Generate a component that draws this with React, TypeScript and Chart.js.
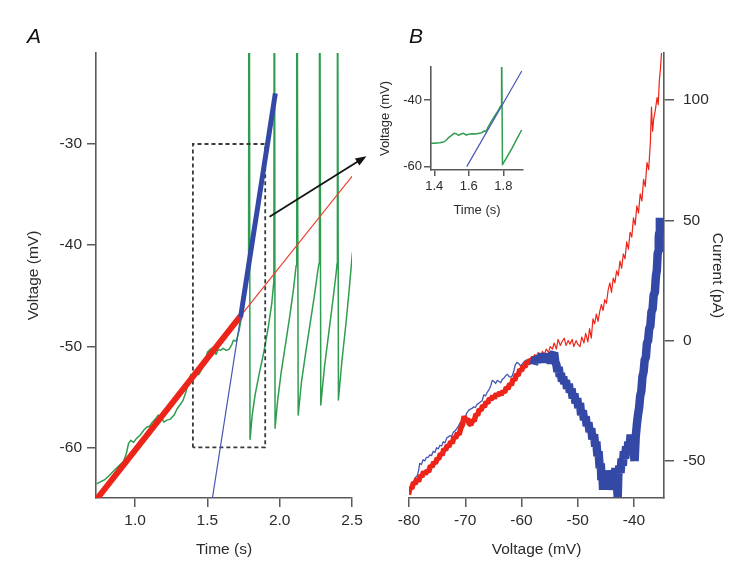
import React, { useEffect, useRef } from "react";
import { Chart, registerables } from "chart.js";
Chart.register(...registerables);

type P = [number, number];

// ---------- Panel A: voltage vs time ----------
const timeTicksA = [1.0, 1.5, 2.0, 2.5];
const voltTicksA = [-60, -50, -40, -30];

const greenTraceA: P[] = [
  [0.735, -63.6], [0.76, -63.4], [0.79, -63.2], [0.82, -62.8], [0.86, -62.2], [0.89, -61.8],
  [0.92, -61.4], [0.94, -60.6], [0.955, -59.6], [0.97, -59.3], [0.99, -59.5], [1.01, -59.1],
  [1.035, -58.8], [1.06, -58.3], [1.08, -58.0], [1.10, -57.9], [1.12, -57.5], [1.14, -57.2],
  [1.16, -56.8], [1.18, -57.0], [1.20, -57.5], [1.22, -57.3], [1.245, -57.2], [1.27, -56.8],
  [1.29, -56.2], [1.31, -55.8], [1.33, -55.4], [1.35, -54.6], [1.37, -53.6], [1.385, -52.8],
  [1.40, -52.9], [1.42, -52.6], [1.44, -52.8], [1.46, -52.3], [1.48, -51.8], [1.50, -50.6],
  [1.52, -50.3], [1.54, -50.1], [1.56, -50.8], [1.575, -50.3], [1.59, -50.4], [1.61, -50.2],
  [1.63, -50.4], [1.65, -50.3], [1.67, -49.8], [1.68, -49.4], [1.70, -49.5], [1.72, -48.4],
  [1.74, -46.8], [1.76, -44.8], [1.775, -43.0], [1.785, -41.5],
  [1.788, 10], [1.795, -59.2],
  [1.81, -56.8], [1.83, -54.8], [1.86, -52.6], [1.89, -50.6], [1.92, -48.2], [1.945, -45.8], [1.96, -43.5],
  [1.963, 10], [1.968, -58.1],
  [1.985, -55.5], [2.01, -52.6], [2.04, -49.8], [2.07, -47.0], [2.095, -44.4], [2.114, -42.0],
  [2.118, 10], [2.128, -56.8],
  [2.15, -53.6], [2.18, -50.6], [2.21, -47.8], [2.24, -45.0], [2.265, -42.4], [2.272, -41.8],
  [2.275, 10], [2.284, -55.8],
  [2.31, -52.0], [2.34, -48.6], [2.37, -45.2], [2.39, -42.8], [2.397, -41.8],
  [2.399, 10], [2.406, -55.3],
  [2.43, -51.5], [2.46, -47.5], [2.48, -44.5], [2.503, -40.7],
];
const redFitThickA: P[] = [[0.73, -65.2], [1.73, -47.0]];
const redFitThinA: P[] = [[1.73, -47.0], [2.5, -33.2]];
const blueFitThinA: P[] = [[1.535, -65], [1.73, -47.1]];
const blueFitThickA: P[] = [[1.73, -47.1], [1.97, -25.0]];
const zoomBoxA: P[] = [[1.4, -60], [1.4, -30], [1.9, -30], [1.9, -60], [1.4, -60]];
const arrowA: P[] = [[1.93, -37.2], [2.6, -31.2]];

// ---------- Panel B: current vs voltage ----------
const voltTicksB = [-80, -70, -60, -50, -40];
const currTicksB = [-50, 0, 50, 100];

const redThickB: P[] = [
  [-80.1, -64], [-79.8, -61], [-79.5, -61.5], [-79.2, -59], [-78.9, -59.5], [-78.6, -57.5],
  [-78.3, -58.5], [-78.0, -56], [-77.7, -56.5], [-77.4, -54.5], [-77.1, -55.5], [-76.8, -54],
  [-76.5, -54.5], [-76.2, -52], [-75.9, -52.5], [-75.6, -50.5], [-75.3, -51], [-75.0, -49],
  [-74.7, -49], [-74.4, -47], [-74.1, -47.5], [-73.8, -45], [-73.5, -45.5], [-73.2, -43.5],
  [-72.9, -44], [-72.6, -42], [-72.3, -42.5], [-72.0, -40], [-71.7, -40.5], [-71.4, -38.5],
  [-71.1, -39], [-70.8, -36.5], [-70.5, -35], [-70.2, -31.5], [-69.9, -33], [-69.6, -32.5],
  [-69.3, -34.5], [-69.0, -35], [-68.7, -33], [-68.4, -33.5], [-68.1, -30.5], [-67.8, -31],
  [-67.5, -28.5], [-67.2, -29], [-66.9, -27], [-66.6, -27.5], [-66.3, -25.5], [-66.0, -26],
  [-65.7, -24], [-65.4, -24.5], [-65.1, -23], [-64.8, -24], [-64.5, -22], [-64.2, -23],
  [-63.9, -21.5], [-63.6, -22.5], [-63.3, -21], [-63.0, -21.5], [-62.7, -19.5], [-62.4, -20],
  [-62.1, -18], [-61.8, -18.5], [-61.5, -16], [-61.2, -16.5], [-60.9, -14], [-60.6, -14.5],
  [-60.3, -12], [-60.0, -12.5], [-59.7, -10.5], [-59.4, -11], [-59.1, -9], [-58.8, -9.5],
  [-58.5, -8], [-58.2, -8.5], [-57.9, -7], [-57.6, -7.5], [-57.3, -6],
];
const blueThinB: P[] = [
  [-80.1, -63.5], [-79.7, -61], [-79.3, -59.5], [-78.9, -57], [-78.5, -56], [-78.3, -54],
  [-78.1, -51], [-77.8, -51.5], [-77.5, -49.5], [-77.2, -50], [-76.9, -48.5], [-76.6, -48.5],
  [-76.3, -47.5], [-76.0, -47.8], [-75.7, -46], [-75.4, -46.5], [-75.1, -44.5], [-74.8, -45],
  [-74.5, -43.5], [-74.2, -43.8], [-73.9, -42], [-73.6, -42.5], [-73.3, -40.5], [-73.0, -40],
  [-72.7, -39.5], [-72.4, -39.8], [-72.1, -38], [-71.8, -37.5], [-71.5, -36.5], [-71.2, -35.5],
  [-70.9, -34], [-70.6, -33.5], [-70.3, -32], [-70.0, -31.5], [-69.7, -30], [-69.4, -29],
  [-69.1, -28.5], [-68.8, -28.2], [-68.5, -27.5], [-68.2, -27.8], [-67.9, -26.5], [-67.6, -26],
  [-67.3, -25.5], [-67.0, -25], [-66.7, -22.5], [-66.4, -23], [-66.1, -21.5], [-65.8, -20.5],
  [-65.5, -19], [-65.2, -16.5], [-64.9, -17], [-64.6, -17.8], [-64.3, -16.5], [-64.0, -17],
  [-63.7, -17.5], [-63.4, -16], [-63.1, -15.5], [-62.8, -14.5], [-62.5, -14], [-62.2, -15],
  [-61.9, -15.2], [-61.6, -14.5], [-61.3, -12], [-61.1, -10], [-60.8, -9], [-60.5, -9.5],
  [-60.2, -10.5], [-59.9, -9.8], [-59.6, -9], [-59.3, -8.2], [-59.0, -8], [-58.7, -8.5],
  [-58.4, -7.8], [-58.1, -7.5], [-57.8, -7.2], [-57.5, -7], [-57.2, -6.5],
];
const redThinB: P[] = [
  [-57.3, -6], [-57.0, -5], [-56.6, -6.5], [-56.3, -4.5], [-55.9, -5.5], [-55.6, -3.5],
  [-55.2, -5], [-54.9, -2.5], [-54.5, -3.5], [-54.2, -1], [-53.8, -3.5], [-53.5, 0.5],
  [-53.1, -2], [-52.8, -0.5], [-52.4, 1], [-52.1, -2], [-51.7, 0], [-51.4, -1.5],
  [-51.0, 0.5], [-50.7, -2.5], [-50.3, 0], [-50.0, -1.5], [-49.6, -2.5], [-49.3, 1.5],
  [-48.9, -1], [-48.6, 3], [-48.2, -0.5], [-47.9, 5], [-47.6, 1], [-47.3, 9],
  [-47.0, 7], [-46.7, 11], [-46.4, 8], [-46.1, 12], [-45.8, 15], [-45.5, 12.5],
  [-45.2, 17], [-44.9, 15.5], [-44.6, 21], [-44.3, 24], [-44.0, 20], [-43.7, 26],
  [-43.4, 24], [-43.1, 29], [-42.8, 27], [-42.5, 33], [-42.2, 30], [-41.9, 36],
  [-41.6, 34], [-41.3, 41], [-41.0, 38], [-40.7, 45], [-40.4, 43], [-40.1, 51],
  [-39.8, 48], [-39.5, 56], [-39.2, 53], [-38.9, 61], [-38.6, 58], [-38.3, 67],
  [-38.0, 64], [-37.7, 74], [-37.4, 71], [-37.1, 82], [-36.9, 97], [-36.7, 87],
  [-36.5, 92], [-36.2, 96], [-35.9, 101], [-35.7, 98], [-35.5, 108], [-35.3, 113], [-35.1, 120],
];
const blueThickB: P[] = [
  [-57.8, -10], [-57.5, -7], [-57.2, -9], [-56.9, -6.5], [-56.6, -8], [-56.3, -5.5],
  [-56.0, -9], [-55.7, -6], [-55.4, -8.5], [-55.1, -5.5], [-54.8, -9.5], [-54.5, -6],
  [-54.2, -5], [-54.0, -9], [-53.8, -10], [-53.6, -13], [-53.4, -11], [-53.2, -15],
  [-53.0, -13.5], [-52.8, -17], [-52.6, -15], [-52.4, -18], [-52.1, -16.5], [-51.9, -20],
  [-51.6, -18], [-51.4, -21.5], [-51.1, -20], [-50.9, -24], [-50.6, -22], [-50.4, -26],
  [-50.1, -24], [-49.9, -28], [-49.6, -26], [-49.4, -31], [-49.1, -29], [-48.9, -33],
  [-48.6, -31.5], [-48.4, -35.5], [-48.1, -34], [-47.9, -38], [-47.6, -36.5], [-47.4, -41],
  [-47.1, -39], [-46.9, -44], [-46.7, -42], [-46.5, -48], [-46.3, -46], [-46.1, -53],
  [-45.9, -51], [-45.8, -58], [-45.6, -56], [-45.5, -62], [-45.3, -55], [-45.1, -59],
  [-44.9, -54], [-44.7, -58], [-44.5, -55], [-44.3, -62], [-44.1, -56], [-43.9, -59],
  [-43.7, -54], [-43.5, -57], [-43.3, -53], [-43.1, -57], [-42.9, -65], [-42.8, -56],
  [-42.6, -52], [-42.4, -55], [-42.2, -49], [-42.0, -52], [-41.8, -46], [-41.6, -49],
  [-41.4, -44], [-41.2, -47], [-41.0, -42], [-40.8, -45], [-40.6, -39], [-40.4, -43],
  [-40.2, -40], [-40.0, -48], [-39.9, -50], [-39.7, -40], [-39.5, -35], [-39.3, -31],
  [-39.1, -28], [-38.9, -23], [-38.7, -21], [-38.5, -15], [-38.3, -13], [-38.1, -8],
  [-37.9, -7], [-37.7, -1], [-37.5, 0], [-37.3, 5], [-37.1, 6], [-36.9, 12],
  [-36.7, 13], [-36.5, 19], [-36.3, 20], [-36.1, 27], [-35.95, 29], [-35.8, 36],
  [-35.7, 37], [-35.6, 43], [-35.5, 45], [-35.4, 51],
];

// ---------- Inset ----------
const timeTicksInset = [1.4, 1.6, 1.8];
const voltTicksInset = [-60, -40];
const greenInset: P[] = [
  [1.381, -53.0], [1.40, -53.0], [1.43, -52.8], [1.455, -52.6], [1.47, -52.0], [1.485, -51.2],
  [1.50, -50.6], [1.515, -50.0], [1.53, -50.2], [1.54, -50.6], [1.555, -50.2], [1.57, -50.0],
  [1.585, -50.5], [1.60, -50.3], [1.62, -50.1], [1.64, -50.2], [1.66, -50.0], [1.675, -49.8],
  [1.69, -49.3], [1.70, -49.5], [1.71, -48.3], [1.73, -46.5], [1.75, -44.8], [1.77, -43.2],
  [1.787, -41.6], [1.79, -20], [1.795, -59.4], [1.82, -57.2], [1.85, -54.5], [1.88, -51.5], [1.906, -49.0],
];
const blueInset: P[] = [[1.588, -60], [1.907, -31.3]];

// ---------- styling ----------
const FONT = "'Liberation Sans', Arial, Helvetica, sans-serif";
const AXIS = "#5a5a5a";
const TEXT = "#2b2b2b";
const GREEN = "#2f9d50";
const RED = "#ec2419";
const RED_THIN = "#e8412e";
const BLUE = "#3449a6";
const BLUE_THIN = "#4656b2";

const xy = (ps: P[]) => ps.map(([x, y]) => ({ x, y }));

function line(data: P[], color: string, width: number, extra: any = {}) {
  return {
    data: xy(data),
    showLine: true,
    borderColor: color,
    backgroundColor: color,
    borderWidth: width,
    pointRadius: 0,
    pointHoverRadius: 0,
    tension: 0,
    fill: false,
    borderJoinStyle: "round",
    ...extra,
  };
}

function scale(opts: {
  min: number; max: number; ticks: number[]; pos: string; size: number; fontSize: number;
  tickLen: number; tickPad: number; title: string; titlePad: any; fixed: number; fmt?: (v: number) => string;
}) {
  const horizontal = opts.pos === "bottom";
  return {
    type: "linear",
    position: opts.pos,
    min: opts.min,
    max: opts.max,
    afterBuildTicks: (s: any) => { s.ticks = opts.ticks.map((v) => ({ value: v })); },
    afterFit: (s: any) => { if (horizontal) s.height = opts.fixed; else s.width = opts.fixed; },
    grid: { drawOnChartArea: false, drawTicks: true, tickLength: opts.tickLen, color: AXIS, tickColor: AXIS, lineWidth: 1.5, tickWidth: 1.5 },
    border: { display: true, color: AXIS, width: 1.6 },
    ticks: {
      autoSkip: false, maxRotation: 0, minRotation: 0, padding: opts.tickPad, color: TEXT,
      font: { family: FONT, size: opts.fontSize },
      callback: (v: any) => (opts.fmt ? opts.fmt(Number(v)) : String(v)),
    },
    title: { display: true, text: opts.title, color: TEXT, font: { family: FONT, size: opts.size }, padding: opts.titlePad },
  };
}

const baseOptions = (padding: any, scales: any) => ({
  responsive: false,
  animation: false,
  devicePixelRatio: 1,
  layout: { padding },
  plugins: { legend: { display: false }, tooltip: { enabled: false } },
  events: [],
  scales,
});

function letterPlugin(letter: string, x: number, y: number) {
  return {
    id: "letter" + letter,
    afterDraw(chart: any) {
      const ctx = chart.ctx;
      ctx.save();
      ctx.fillStyle = "#111";
      ctx.font = `italic 21px ${FONT}`;
      ctx.textBaseline = "alphabetic";
      ctx.fillText(letter, x, y);
      ctx.restore();
    },
  };
}

const arrowPlugin = {
  id: "arrowA",
  afterDatasetsDraw(chart: any) {
    const { ctx, scales } = chart;
    const x0 = scales.x.getPixelForValue(arrowA[0][0]);
    const y0 = scales.y.getPixelForValue(arrowA[0][1]);
    const x1 = scales.x.getPixelForValue(arrowA[1][0]);
    const y1 = scales.y.getPixelForValue(arrowA[1][1]);
    const ang = Math.atan2(y1 - y0, x1 - x0);
    const head = 11, half = 4.2;
    ctx.save();
    ctx.strokeStyle = "#111";
    ctx.fillStyle = "#111";
    ctx.lineWidth = 1.7;
    ctx.beginPath();
    ctx.moveTo(x0, y0);
    ctx.lineTo(x1 - Math.cos(ang) * head * 0.8, y1 - Math.sin(ang) * head * 0.8);
    ctx.stroke();
    ctx.beginPath();
    ctx.moveTo(x1, y1);
    ctx.lineTo(x1 - Math.cos(ang) * head - Math.sin(ang) * half, y1 - Math.sin(ang) * head + Math.cos(ang) * half);
    ctx.lineTo(x1 - Math.cos(ang) * head + Math.sin(ang) * half, y1 - Math.sin(ang) * head - Math.cos(ang) * half);
    ctx.closePath();
    ctx.fill();
    ctx.restore();
  },
};

const makeA = () => ({
  type: "scatter",
  data: {
    datasets: [
      line(blueFitThickA, BLUE, 5, { borderCapStyle: "butt" }),
      line(blueFitThinA, BLUE_THIN, 1.2),
      line(redFitThickA, RED, 6, { borderCapStyle: "butt" }),
      line(redFitThinA, RED_THIN, 1.2),
      line(zoomBoxA, "#3a3a3a", 1.8, { borderDash: [4, 3], borderJoinStyle: "miter" }),
      line(greenTraceA, GREEN, 1.5),
    ],
  },
  options: baseOptions({ left: 0, right: 28, top: 53, bottom: 0 }, {
    x: scale({ min: 0.73, max: 2.5, ticks: timeTicksA, pos: "bottom", size: 15.5, fontSize: 15.5, tickLen: 9, tickPad: 4,
      title: "Time (s)", titlePad: { top: 0, bottom: 11 }, fixed: 72, fmt: (v) => v.toFixed(1) }),
    y: scale({ min: -65, max: -21, ticks: voltTicksA, pos: "left", size: 15.5, fontSize: 15.5, tickLen: 9, tickPad: 5,
      title: "Voltage (mV)", titlePad: { top: 24, bottom: 0 }, fixed: 96 }),
  }),
  plugins: [arrowPlugin, letterPlugin("A", 27, 43)],
});

const makeB = () => ({
  type: "scatter",
  data: {
    datasets: [
      line(blueThickB, BLUE, 8.5, { borderJoinStyle: "bevel" }),
      line(redThickB, RED, 5.5, { borderJoinStyle: "bevel" }),
      line(redThinB, RED, 1.2),
      line(blueThinB, BLUE_THIN, 1.3),
    ],
  },
  options: baseOptions({ left: 29, right: 0, top: 53, bottom: 0 }, {
    x: scale({ min: -80, max: -34.67, ticks: voltTicksB, pos: "bottom", size: 15.5, fontSize: 15.5, tickLen: 9, tickPad: 4,
      title: "Voltage (mV)", titlePad: { top: 0, bottom: 11 }, fixed: 72 }),
    y: scale({ min: -65.4, max: 119.5, ticks: currTicksB, pos: "right", size: 15.5, fontSize: 15.5, tickLen: 10, tickPad: 9,
      title: "Current (pA)", titlePad: { top: 28, bottom: 0 }, fixed: 91 }),
  }),
  plugins: [letterPlugin("B", 29, 43)],
});

const makeInset = () => ({
  type: "scatter",
  data: {
    datasets: [
      line(blueInset, BLUE_THIN, 1.2),
      line(greenInset, GREEN, 1.5),
    ],
  },
  options: baseOptions({ left: 0, right: 10, top: 12, bottom: 0 }, {
    x: scale({ min: 1.381, max: 1.914, ticks: timeTicksInset, pos: "bottom", size: 13, fontSize: 13, tickLen: 6, tickPad: 3,
      title: "Time (s)", titlePad: { top: 0, bottom: 12 }, fixed: 60, fmt: (v) => v.toFixed(1) }),
    y: scale({ min: -61, max: -30.1, ticks: voltTicksInset, pos: "left", size: 13, fontSize: 13, tickLen: 7, tickPad: 2,
      title: "Voltage (mV)", titlePad: { top: 0, bottom: 0 }, fixed: 53 }),
  }),
});

function ChartBox({ left, top, width, height, make }: { left: number; top: number; width: number; height: number; make: () => any }) {
  const ref = useRef<HTMLCanvasElement>(null);
  useEffect(() => {
    if (!ref.current) return;
    const chart = new Chart(ref.current, make());
    return () => chart.destroy();
  }, []);
  return (
    <canvas
      ref={ref}
      width={width}
      height={height}
      style={{ position: "absolute", left, top, width, height }}
    />
  );
}

export default function App() {
  return (
    <div style={{ position: "absolute", left: 0, top: 0, width: 755, height: 570, background: "#fff", overflow: "hidden" }}>
      <ChartBox left={0} top={0} width={380} height={570} make={makeA} />
      <ChartBox left={380} top={0} width={375} height={570} make={makeB} />
      <ChartBox left={378} top={55} width={155} height={175} make={makeInset} />
    </div>
  );
}
